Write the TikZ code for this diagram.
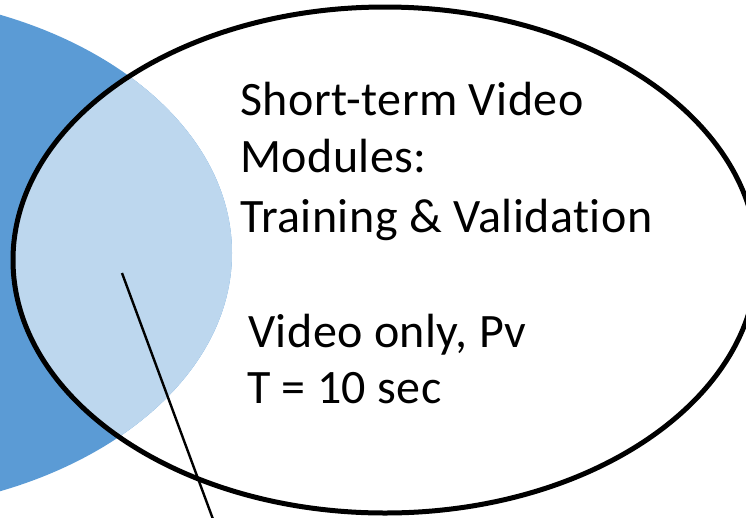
\documentclass[tikz,border=0pt]{standalone}
\usepackage{fontspec}
\setmainfont{Carlito}[Ligatures=NoCommon,LetterSpace=1.0]
\definecolor{setblue}{RGB}{91,155,213}
\definecolor{overlapblue}{RGB}{189,215,238}
\begin{document}
\begin{tikzpicture}[x=1pt,y=-1pt,
  label/.style={anchor=base west,inner sep=0pt,font=\fontsize{48}{58}\selectfont},
  outline/.style={draw=black,line width=5pt},
  pointer/.style={draw=black,line width=2.4pt}]
\useasboundingbox (0,0) rectangle (746,517);
\begin{scope}
  \clip (0,0) rectangle (746,517);
  % left set (video data)
  \fill[setblue] (-150,253) ellipse [x radius=382, y radius=259];
  % overlap with the module set
  \begin{scope}
    \clip (385,260) ellipse [x radius=372, y radius=253];
    \fill[overlapblue] (-150,253) ellipse [x radius=382, y radius=259];
  \end{scope}
  % module set outline
  \draw[outline] (385,260) ellipse [x radius=372, y radius=253];
  % pointer line
  \coordinate (ptrA) at (122,273);
  \coordinate (ptrB) at (217,530);
  \draw[pointer] (ptrA) -- (ptrB);
\end{scope}
\node[label] (l1) at (240,115) {Short-term Video};
\node[label] (l2) at (240,172) {Modules:};
\node[label] (l3) at (240,232) {Training \& Validation};
\node[label] (l4) at (248,347) {Video only, Pv};
\node[label] (l5) at (247,403) {T = 10 sec};
\end{tikzpicture}
\end{document}
